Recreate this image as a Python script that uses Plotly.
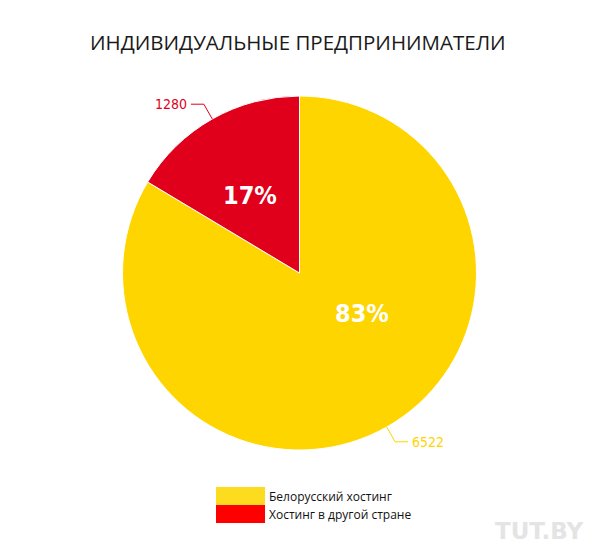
import math
import plotly.graph_objects as go

# the page adds an 8px body margin, so the figure is sized to fit the window
W, H = 600, 553
OFF = 8
FW, FH = W - 2 * OFF, H - 2 * OFF

labels = ["Белорусский хостинг", "Хостинг в другой стране"]
values = [6522, 1280]
percent_labels = ["83%", "17%"]
slice_colors = ["#FFD500", "#E0001B"]
legend_colors = ["#FDDB1E", "#FF0000"]
title = "ИНДИВИДУАЛЬНЫЕ ПРЕДПРИНИМАТЕЛИ"

# pie geometry in window pixels
cx, cy, R = 299.5, 273, 177
# where the percentage labels sit: (angle clockwise from top in deg, fraction of radius)
pct_pos = [(123, 0.42), (-32.5, 0.52)]

condensed = "DejaVu Sans Condensed, Liberation Sans Narrow, DejaVu Sans"


def px(x):
    return (x - OFF) / FW


def py(y):
    return 1 - (y - OFF) / FH


fig = go.Figure()
fig.add_trace(
    go.Pie(
        labels=labels,
        values=values,
        sort=False,
        direction="clockwise",
        rotation=0,
        marker=dict(colors=slice_colors, line=dict(color="white", width=1)),
        textinfo="none",
        hoverinfo="label+value+percent",
        showlegend=False,
        domain=dict(x=[px(cx - R), px(cx + R)], y=[py(cy + R), py(cy - R)]),
    )
)

shapes = []
annotations = []

# percentages inside the slices
for txt, (ang, fr) in zip(percent_labels, pct_pos):
    a = math.radians(ang)
    annotations.append(
        dict(
            x=px(cx + fr * R * math.sin(a)),
            y=py(cy - fr * R * math.cos(a)),
            xref="paper",
            yref="paper",
            text=txt,
            showarrow=False,
            xanchor="center",
            yanchor="middle",
            font=dict(family=condensed, size=25, color="white", weight="bold"),
        )
    )

# outside value labels with bent leader lines
total = sum(values)
start = 0.0
for v, col in zip(values, slice_colors):
    frac = v / total
    mid = (start + frac / 2) * 2 * math.pi
    start += frac
    sx, sy = math.sin(mid), -math.cos(mid)
    ex, ey = cx + R * sx, cy + R * sy
    bx, by = cx + (R + 17) * sx, cy + (R + 17) * sy
    side = 1 if sx >= 0 else -1
    hx = bx + side * 13
    shapes.append(
        dict(
            type="path",
            xref="paper",
            yref="paper",
            path=f"M {px(ex)},{py(ey)} L {px(bx)},{py(by)} L {px(hx)},{py(by)}",
            line=dict(color=col, width=1),
        )
    )
    annotations.append(
        dict(
            x=px(hx + side * 2),
            y=py(by),
            xref="paper",
            yref="paper",
            text=str(v),
            showarrow=False,
            xanchor="left" if side > 0 else "right",
            yanchor="middle",
            font=dict(family=condensed, size=14, color=col),
        )
    )

# custom legend with wide colour blocks
lx, ly, lw, lh = 216, 487, 49, 18
for i, (lab, col) in enumerate(zip(labels, legend_colors)):
    y0 = ly + i * lh
    shapes.append(
        dict(
            type="rect",
            xref="paper",
            yref="paper",
            x0=px(lx),
            x1=px(lx + lw),
            y0=py(y0 + lh),
            y1=py(y0),
            fillcolor=col,
            line=dict(width=0),
        )
    )
    annotations.append(
        dict(
            x=px(lx + lw + 2),
            y=py(y0 + lh / 2),
            xref="paper",
            yref="paper",
            text=lab,
            showarrow=False,
            xanchor="left",
            yanchor="middle",
            font=dict(family="Open Sans", size=12, color="#111111"),
        )
    )

# watermark
annotations.append(
    dict(
        x=px(586),
        y=py(531),
        xref="paper",
        yref="paper",
        text="<b>TUT.BY</b>",
        showarrow=False,
        xanchor="right",
        yanchor="middle",
        font=dict(family="DejaVu Sans", size=23, color="#e4e4e4"),
    )
)

annotations.append(
    dict(
        x=px(298),
        y=py(42),
        xref="paper",
        yref="paper",
        text=title,
        showarrow=False,
        xanchor="center",
        yanchor="middle",
        font=dict(family="Open Sans", size=20.5, color="#1a1a1a"),
    )
)

fig.update_layout(
    width=FW,
    height=FH,
    margin=dict(l=0, r=0, t=0, b=0),
    paper_bgcolor="white",
    plot_bgcolor="white",
    shapes=shapes,
    annotations=annotations,
)

fig.write_html("out.html")
